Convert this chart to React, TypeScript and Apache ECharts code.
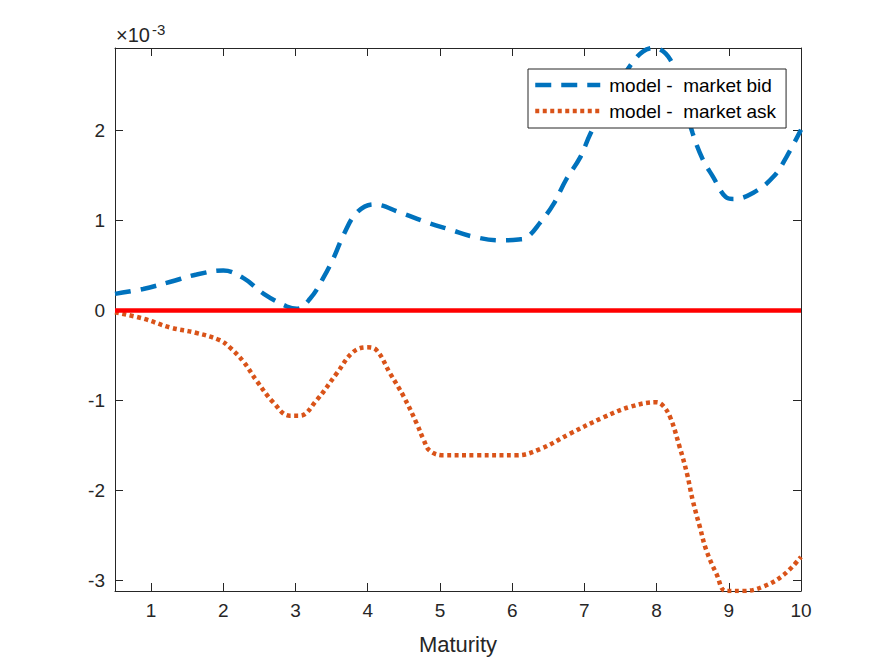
import React, { useEffect, useRef } from "react";
import * as echarts from "echarts";

// values are in units of 1e-3
const bidX = [0.5, 0.89, 1.27, 1.63, 2.0, 2.28, 2.56, 2.88, 3.02, 3.2, 3.39, 3.53, 3.67, 3.85, 4.08, 4.45, 4.82, 5.14, 5.47, 5.84, 6.09, 6.2, 6.39, 6.57, 6.75, 6.94, 7.08, 7.3, 7.5, 7.65, 7.81, 7.96, 8.19, 8.35, 8.5, 8.64, 8.78, 8.96, 9.06, 9.34, 9.62, 9.8, 10];
const bidY = [0.185, 0.24, 0.32, 0.4, 0.445, 0.36, 0.185, 0.045, 0.02, 0.13, 0.37, 0.59, 0.85, 1.09, 1.18, 1.09, 0.98, 0.9, 0.82, 0.78, 0.79, 0.81, 0.98, 1.18, 1.46, 1.7, 1.96, 2.3, 2.55, 2.74, 2.88, 2.92, 2.79, 2.4, 1.97, 1.68, 1.49, 1.26, 1.24, 1.31, 1.49, 1.71, 2.01];

const askX = [0.5, 0.89, 1.27, 1.63, 1.95, 2.09, 2.28, 2.46, 2.69, 2.92, 3.06, 3.29, 3.57, 3.8, 3.99, 4.12, 4.31, 4.5, 4.68, 4.77, 4.86, 5.05, 5.5, 6.06, 6.39, 6.8, 7.26, 7.64, 8.0, 8.09, 8.19, 8.32, 8.42, 8.5, 8.6, 8.69, 8.83, 8.96, 9.2, 9.48, 9.76, 10];
const askY = [-0.02, -0.09, -0.19, -0.25, -0.33, -0.41, -0.57, -0.78, -1.02, -1.17, -1.17, -1.0, -0.7, -0.46, -0.41, -0.44, -0.7, -0.96, -1.26, -1.43, -1.56, -1.61, -1.61, -1.61, -1.54, -1.37, -1.19, -1.07, -1.02, -1.06, -1.19, -1.52, -1.81, -2.11, -2.41, -2.67, -2.93, -3.12, -3.12, -3.07, -2.94, -2.74];

const zeroX = [0.5, 10];
const zeroY = [0, 0];

const xTicks = [1, 2, 3, 4, 5, 6, 7, 8, 9, 10];
const yTicks = [-3, -2, -1, 0, 1, 2];
const xRange = [0.5, 10];
const yRange = [-3.12, 2.92];

const seriesNames = ["model -  market bid", "model -  market ask"];
const xLabel = "Maturity";
const exponentBase = "×10";
const exponentPower = "-3";

const FONT = "'Liberation Sans', Arial, Helvetica, sans-serif";
const AX = "#262626";
const BLUE = "#0072BD";
const ORANGE = "#D95319";
const BID_DASH = [16, 10];
const ASK_DASH = [4, 3.5];

function pairs(xs: number[], ys: number[]) {
  return xs.map((x, i) => [x, ys[i]]);
}

export default function App() {
  const ref = useRef<HTMLDivElement>(null);
  useEffect(() => {
    document.body.style.margin = "0";
    const chart = echarts.init(ref.current!, null, { renderer: "svg" });
    const axisCommon = {
      type: "value" as const,
      axisLine: { show: true, onZero: false, lineStyle: { color: AX, width: 1 } },
      splitLine: { show: false },
    };
    chart.setOption({
      animation: false,
      backgroundColor: "#fff",
      grid: { left: 115, right: 84, top: 48, bottom: 73, containLabel: false, outerBoundsMode: "none" },
      xAxis: [
        {
          ...axisCommon,
          position: "bottom",
          min: xRange[0],
          max: xRange[1],
          name: xLabel,
          nameLocation: "middle",
          nameGap: 42,
          nameTextStyle: { fontSize: 22, color: AX, fontFamily: FONT },
          axisTick: { show: true, inside: true, length: 8, lineStyle: { color: AX }, customValues: xTicks },
          axisLabel: { show: true, margin: 10, fontSize: 19, color: AX, fontFamily: FONT, customValues: xTicks },
        },
        {
          ...axisCommon,
          position: "top",
          min: xRange[0],
          max: xRange[1],
          axisTick: { show: true, inside: true, length: 8, lineStyle: { color: AX }, customValues: xTicks },
          axisLabel: { show: false },
        },
      ],
      yAxis: [
        {
          ...axisCommon,
          position: "left",
          min: yRange[0],
          max: yRange[1],
          axisTick: { show: true, inside: true, length: 8, lineStyle: { color: AX }, customValues: yTicks },
          axisLabel: { show: true, margin: 10, fontSize: 19, color: AX, fontFamily: FONT, customValues: yTicks },
        },
        {
          ...axisCommon,
          position: "right",
          min: yRange[0],
          max: yRange[1],
          axisTick: { show: true, inside: true, length: 8, lineStyle: { color: AX }, customValues: yTicks },
          axisLabel: { show: false },
        },
      ],
      legend: {
        data: [
          { name: seriesNames[0], itemStyle: { opacity: 0 }, lineStyle: { color: BLUE, width: 4.5, type: BID_DASH } },
          { name: seriesNames[1], itemStyle: { opacity: 0 }, lineStyle: { color: ORANGE, width: 4.5, type: ASK_DASH } },
        ],
        orient: "vertical",
        left: 528,
        top: 69,
        backgroundColor: "#fff",
        borderColor: AX,
        borderWidth: 1,
        borderRadius: 0,
        padding: [5, 10, 6, 5],
        itemWidth: 65,
        itemHeight: 6,
        itemGap: 4,
        z: 10,
        itemStyle: { opacity: 0 },
        textStyle: { fontSize: 19, color: "#000", fontFamily: FONT, lineHeight: 22, padding: [0, 0, 0, 4] },
      },
      graphic: [
        { type: "text", x: 116, y: 25, z: 10, style: { text: exponentBase, fontSize: 20, fontFamily: FONT, fill: AX, verticalAlign: "top" } },
        { type: "text", x: 152, y: 22, z: 10, style: { text: exponentPower, fontSize: 15, fontFamily: FONT, fill: AX, verticalAlign: "top" } },
      ],
      series: [
        {
          name: seriesNames[0],
          type: "line",
          data: pairs(bidX, bidY),
          smooth: 0.4,
          showSymbol: false,
          symbol: "none",
          color: BLUE,
          lineStyle: { color: BLUE, width: 4.5, type: BID_DASH, cap: "butt" },
        },
        {
          name: seriesNames[1],
          type: "line",
          data: pairs(askX, askY),
          smooth: 0.4,
          showSymbol: false,
          symbol: "none",
          color: ORANGE,
          lineStyle: { color: ORANGE, width: 4.5, type: ASK_DASH, cap: "butt" },
        },
        {
          name: "zero",
          type: "line",
          data: pairs(zeroX, zeroY),
          showSymbol: false,
          symbol: "none",
          color: "#FF0000",
          lineStyle: { color: "#FF0000", width: 4.5, type: "solid" },
        },
      ],
    });
    return () => chart.dispose();
  }, []);
  return <div ref={ref} style={{ width: 885, height: 664 }} />;
}
